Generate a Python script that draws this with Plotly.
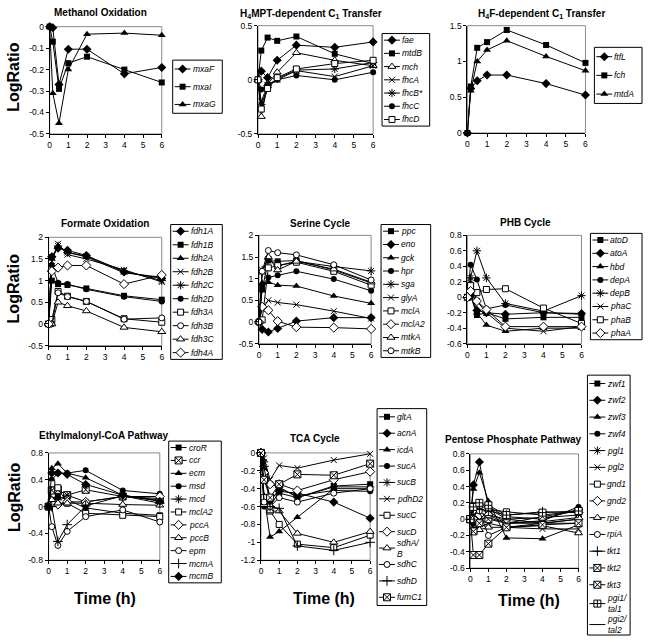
import plotly.graph_objects as go

W, H = 648, 642
FONT = "Arial, Liberation Sans, sans-serif"

# -------------------------------
# Data (hours after shift, log ratios)
# -------------------------------
time_h = [0, 0.17, 0.5, 1, 2, 4, 6]
x_ticks = [0, 1, 2, 3, 4, 5, 6]
x_ticktext = ["0", "1", "2", "3", "4", "5", "6"]

methanol_genes = ["mxaF", "mxaI", "mxaG"]
methanol_vals = [
    [0, -0.005, -0.27, -0.105, -0.105, -0.22, -0.19],
    [0, -0.07, -0.29, -0.17, -0.14, -0.2, -0.26],
    [0, -0.31, -0.45, -0.2, -0.035, -0.03, -0.04],
]
methanol_yticks = [-0.5, -0.4, -0.3, -0.2, -0.1, 0]
methanol_ytext = ["-0.5", "-0.4", "-0.3", "-0.2", "-0.1", "0"]

h4mpt_genes = ["fae", "mtdB", "mch", "fhcA", "fhcB*", "fhcC", "fhcD"]
h4mpt_vals = [
    [0, 0.08, 0.02, 0.18, 0.32, 0.3, 0.35],
    [0, 0.27, 0.39, 0.36, 0.4, 0.24, 0.15],
    [0, -0.34, -0.04, 0.07, 0.25, 0.18, 0.13],
    [0, -0.2, -0.05, 0.0, 0.085, 0.03, 0.13],
    [0, -0.23, -0.07, 0.01, 0.09, 0.1, 0.16],
    [0, -0.09, -0.04, 0.0, 0.04, 0.0, 0.07],
    [0, -0.27, -0.08, 0.02, 0.1, 0.15, 0.18],
]
h4mpt_yticks = [-0.5, 0, 0.5]
h4mpt_ytext = ["-0.5", "0", "0.5"]

h4f_genes = ["ftfL", "fch", "mtdA"]
h4f_vals = [
    [0, 0.62, 0.73, 0.81, 0.81, 0.69, 0.53],
    [0, 0.65, 1.19, 1.27, 1.44, 1.23, 0.98],
    [0, 0.59, 1.0, 1.16, 1.29, 1.07, 0.87],
]
h4f_yticks = [0, 0.5, 1, 1.5]
h4f_ytext = ["0", "0.5", "1", "1.5"]

formate_genes = ["fdh1A", "fdh1B", "fdh2A", "fdh2B", "fdh2C", "fdh2D",
                 "fdh3A", "fdh3B", "fdh3C", "fdh4A"]
formate_vals = [
    [0, 1.55, 1.75, 1.7, 1.58, 1.2, 1.05],
    [0, 1.0, 0.92, 0.9, 0.82, 0.65, 0.56],
    [0, 1.5, 1.8, 1.65, 1.55, 1.18, 1.08],
    [0, 1.45, 1.85, 1.6, 1.5, 1.25, 0.97],
    [0, 1.55, 1.8, 1.65, 1.57, 1.22, 1.0],
    [0, 1.35, 0.95, 0.92, 0.8, 0.63, 0.52],
    [0, 0.1, 0.75, 0.64, 0.52, 0.12, 0.04],
    [0, 0.0, 0.72, 0.63, 0.52, 0.11, 0.14],
    [0, 0.0, 0.5, 0.42, 0.3, -0.08, -0.18],
    [0, 1.22, 1.3, 1.35, 1.35, 0.92, 1.13],
]
formate_yticks = [-0.5, 0, 0.5, 1, 1.5, 2]
formate_ytext = ["-0.5", "0", "0.5", "1", "1.5", "2"]

serine_genes = ["ppc", "eno", "gck", "hpr", "sga", "glyA", "mclA",
                "mclA2", "mtkA", "mtkB"]
serine_vals = [
    [0, 0.75, 1.42, 1.4, 1.42, 1.2, 0.9],
    [0, -0.17, -0.23, -0.15, 0.02, 0.1, 0.1],
    [0, 0.9, 0.92, 0.85, 0.83, 0.6, 0.43],
    [0, 0.85, 1.03, 1.08, 1.17, 0.99, 0.72],
    [0, 1.2, 1.45, 1.3, 1.4, 1.28, 1.18],
    [0, 0.3, 0.5, 0.45, 0.4, 0.25, 0.08],
    [0, 0.05, 1.25, 1.3, 1.38, 1.17, 0.85],
    [0, 0.35, 0.27, 0.02, -0.12, -0.13, -0.16],
    [0, 1.15, 1.5, 1.2, 1.4, 1.22, 0.92],
    [0, 1.17, 1.65, 1.6, 1.55, 1.32, 0.97],
]
serine_yticks = [-0.5, 0, 0.5, 1, 1.5, 2]
serine_ytext = ["-0.5", "0", "0.5", "1", "1.5", "2"]

phb_genes = ["atoD", "atoA", "hbd", "depA", "depB", "phaC", "phaB", "phaA"]
phb_vals = [
    [0, 0.02, -0.23, -0.2, -0.28, -0.26, -0.26],
    [0, 0.05, -0.17, -0.2, -0.22, -0.2, -0.21],
    [0, 0.02, -0.2, -0.36, -0.44, -0.4, -0.4],
    [0, 0.42, 0.23, -0.15, -0.1, -0.2, -0.22],
    [0, 0.25, 0.6, 0.25, -0.08, -0.18, 0.02],
    [0, 0.22, -0.05, -0.2, -0.4, -0.44, -0.38],
    [0, 0.15, 0.06, 0.1, 0.11, -0.14, -0.34],
    [0, 0.08, -0.05, -0.16, -0.38, -0.38, -0.38],
]
phb_yticks = [-0.6, -0.4, -0.2, 0, 0.2, 0.4, 0.6, 0.8]
phb_ytext = ["-0.6", "-0.4", "-0.2", "0", "0.2", "0.4", "0.6", "0.8"]

emc_genes = ["croR", "ccr", "ecm", "msd", "mcd", "mclA2", "pccA", "pccB",
             "epm", "mcmA", "mcmB"]
emc_vals = [
    [0, 0.1, 0.15, 0.1, -0.02, -0.1, -0.13],
    [0, 0.24, 0.25, 0.17, 0.25, 0.15, 0.1],
    [0, 0.57, 0.64, 0.5, 0.43, 0.17, 0.08],
    [0, 0.4, 0.5, 0.5, 0.54, 0.24, 0.19],
    [0, 0.1, 0.1, 0.17, 0.07, 0.15, 0.12],
    [0, 0.34, 0.28, 0.05, -0.1, -0.13, -0.15],
    [0, 0.05, 0.03, 0.07, 0.07, 0.15, 0.15],
    [0, 0.1, 0.05, 0.05, 0.05, 0.03, 0.02],
    [0, -0.3, -0.58, -0.37, -0.15, -0.05, -0.23],
    [0, 0.0, -0.52, -0.27, 0.01, 0.16, 0.05],
    [0, 0.5, 0.5, 0.48, 0.33, 0.17, 0.08],
]
emc_yticks = [-0.8, -0.4, 0, 0.4, 0.8]
emc_ytext = ["-0.8", "-0.4", "0", "0.4", "0.8"]

tca_genes = ["gltA", "acnA", "icdA", "sucA", "sucB", "pdhD2", "sucC", "sucD",
             "sdhA/B", "sdhC", "sdhD", "fumC1"]
tca_vals = [
    [0, -0.2, -0.5, -0.45, -0.5, -0.37, -0.35],
    [0, -0.55, -0.6, -0.43, -0.45, -0.55, -0.73],
    [0, -0.48, -0.94, -0.88, -0.72, -0.4, -0.4],
    [0, -0.6, -0.55, -0.4, -0.48, -0.42, -0.43],
    [0, -0.1, -0.35, -0.38, -0.5, -0.38, -0.38],
    [0, -0.06, -0.3, -0.14, -0.17, -0.08, -0.01],
    [0, -0.5, -0.65, -0.8, -1.02, -1.06, -0.92],
    [0, -0.22, -0.35, -0.35, -0.42, -0.3, -0.21],
    [0, -0.58, -0.65, -0.65, -0.9, -1.0, -0.88],
    [0, -0.55, -0.6, -0.5, -0.55, -0.45, -0.4],
    [0, -0.15, -0.6, -0.62, -1.04, -1.09, -1.0],
    [0, -0.3, -0.5, -0.35, -0.24, -0.25, -0.12],
]
tca_yticks = [-1.2, -1, -0.8, -0.6, -0.4, -0.2, 0]
tca_ytext = ["-1.2", "-1", "-0.8", "-0.6", "-0.4", "-0.2", "0"]

ppp_genes = ["zwf1", "zwf2", "zwf3", "zwf4", "pgl1", "pgl2", "gnd1", "gnd2",
             "rpe", "rpiA", "tkt1", "tkt2", "tkt3", "pgi1/tal1", "pgi2/tal2"]
ppp_vals = [
    [0, 0.17, 0.2, 0.13, 0.0, 0.02, 0.05],
    [0, 0.42, 0.7, 0.15, 0.03, 0.0, 0.12],
    [0, 0.37, 0.57, 0.22, -0.23, -0.24, -0.07],
    [0, -0.05, -0.07, 0.1, -0.05, -0.02, 0.15],
    [0, 0.05, 0.07, 0.05, -0.05, -0.05, 0.0],
    [0, -0.1, -0.1, -0.05, -0.1, -0.12, -0.12],
    [0, 0.02, 0.17, 0.12, 0.09, 0.05, 0.1],
    [0, 0.0, 0.05, 0.05, 0.0, -0.05, 0.0],
    [0, -0.15, -0.13, -0.1, -0.1, -0.08, -0.17],
    [0, 0.15, 0.1, -0.2, -0.1, -0.05, -0.05],
    [0, 0.15, 0.12, 0.1, 0.05, 0.09, 0.08],
    [0, -0.15, -0.05, 0.0, -0.05, 0.03, 0.1],
    [0, -0.44, -0.44, -0.3, -0.1, -0.07, -0.05],
    [0, 0.15, 0.2, 0.17, 0.05, 0.08, 0.1],
    [0, 0.05, 0.0, 0.02, -0.05, -0.03, 0.02],
]
ppp_yticks = [-0.6, -0.4, -0.2, 0, 0.2, 0.4, 0.6, 0.8]
ppp_ytext = ["-0.6", "-0.4", "-0.2", "0", "0.2", "0.4", "0.6", "0.8"]

# -------------------------------
# Marker styles (Excel-like)
# -------------------------------
BL = dict(color="black", width=1)
STYLE = {
    "dia": dict(symbol="diamond", size=7, color="black", line=dict(color="black", width=0)),
    "sq": dict(symbol="square", size=6, color="black", line=dict(color="black", width=0)),
    "tri": dict(symbol="triangle-up", size=7, color="black", line=dict(color="black", width=0)),
    "cir": dict(symbol="circle", size=6, color="black", line=dict(color="black", width=0)),
    "x": dict(symbol="x-thin", size=6, color="black", line=BL),
    "ast": dict(symbol="asterisk", size=7, color="black", line=BL),
    "plus": dict(symbol="cross-thin", size=7, color="black", line=BL),
    "osq": dict(symbol="square", size=6, color="white", line=BL),
    "ocir": dict(symbol="circle", size=6, color="white", line=BL),
    "otri": dict(symbol="triangle-up", size=7, color="white", line=BL),
    "odia": dict(symbol="diamond", size=7, color="white", line=BL),
    "sqx": dict(symbol="square-x", size=7, color="white", line=BL),
    "sqp": dict(symbol="square-cross", size=7, color="white", line=BL),
    "none": None,
}

panels = [
    ("Methanol Oxidation", methanol_genes, methanol_vals,
     ["dia", "sq", "tri"], [-0.5, 0], methanol_yticks, methanol_ytext),
    ("H<sub>4</sub>MPT-dependent C<sub>1</sub> Transfer", h4mpt_genes, h4mpt_vals,
     ["dia", "sq", "otri", "x", "ast", "cir", "osq"], [-0.5, 0.5], h4mpt_yticks, h4mpt_ytext),
    ("H<sub>4</sub>F-dependent C<sub>1</sub> Transfer", h4f_genes, h4f_vals,
     ["dia", "sq", "tri"], [0, 1.5], h4f_yticks, h4f_ytext),
    ("Formate Oxidation", formate_genes, formate_vals,
     ["dia", "sq", "tri", "x", "ast", "cir", "osq", "ocir", "otri", "odia"],
     [-0.5, 2], formate_yticks, formate_ytext),
    ("Serine Cycle", serine_genes, serine_vals,
     ["sq", "dia", "tri", "cir", "ast", "x", "osq", "odia", "otri", "ocir"],
     [-0.5, 2], serine_yticks, serine_ytext),
    ("PHB Cycle", phb_genes, phb_vals,
     ["sq", "dia", "tri", "cir", "ast", "x", "osq", "odia"],
     [-0.6, 0.8], phb_yticks, phb_ytext),
    ("Ethylmalonyl-CoA Pathway", emc_genes, emc_vals,
     ["sq", "sqx", "tri", "cir", "ast", "osq", "odia", "otri", "ocir", "plus", "dia"],
     [-0.8, 0.8], emc_yticks, emc_ytext),
    ("TCA Cycle", tca_genes, tca_vals,
     ["sq", "dia", "tri", "cir", "ast", "x", "osq", "odia", "otri", "ocir", "plus", "sqx"],
     [-1.2, 0], tca_yticks, tca_ytext),
    ("Pentose Phosphate Pathway", ppp_genes, ppp_vals,
     ["sq", "dia", "tri", "cir", "ast", "x", "osq", "odia", "otri", "ocir", "plus",
      "sqx", "sqx", "sqp", "none"],
     [-0.6, 0.8], ppp_yticks, ppp_ytext),
]

# pixel boxes: plot areas, legend boxes, titles
plot_px = [(48, 161, 22, 131), (258, 374, 21, 131), (469, 588, 21, 130),
           (47, 161, 236, 346), (259, 372, 234, 344), (469, 584, 234, 344),
           (47, 159, 455, 564), (261, 371, 455, 564), (472, 581, 456, 572)]
legend_px = [(172, 222, 56, 110), (383, 431, 29, 123), (597, 645, 43, 100),
             (170, 222, 223, 360), (382, 432, 223, 358), (593, 645, 232, 340),
             (168, 221, 443, 587), (378, 428, 410, 610), (590, 633, 376, 640)]
title_px = [(99, 8), (311, 9), (544, 9), (104, 222), (320, 222), (528, 221),
            (103, 437), (315, 440), (515, 441)]


def px(x):
    return x / W


def py(y):
    return 1 - y / H


fig = go.Figure()
layout = dict(width=W, height=H, margin=dict(l=0, r=0, t=0, b=0),
              paper_bgcolor="white", plot_bgcolor="rgba(0,0,0,0)",
              showlegend=False, font=dict(family=FONT, color="black"))
shapes, annotations = [], []

for k, (title, genes, vals, styles, yr, ytv, ytt) in enumerate(panels, start=1):
    sfx = "" if k == 1 else str(k)
    x0, x1, y0, y1 = plot_px[k - 1]
    layout["xaxis" + sfx] = dict(
        domain=[px(x0), px(x1)], range=[0, 6], anchor="y" + sfx,
        showline=True, linecolor="black", linewidth=1, ticks="outside",
        ticklen=3, tickcolor="black", tickvals=x_ticks, ticktext=x_ticktext,
        tickfont=dict(size=8.5), showgrid=False, zeroline=False)
    layout["yaxis" + sfx] = dict(
        domain=[py(y1), py(y0)], range=yr, anchor="x" + sfx,
        showline=True, linecolor="black", linewidth=1, ticks="outside",
        ticklen=3, tickcolor="black", tickvals=ytv, ticktext=ytt,
        tickfont=dict(size=8.5), showgrid=False, zeroline=False)
    # gray plot-area border
    shapes.append(dict(type="rect", xref="x" + sfx + " domain", yref="y" + sfx + " domain",
                       x0=0, x1=1, y0=0, y1=1, line=dict(color="#8a8a8a", width=1),
                       layer="below"))

    for g, v, s in zip(genes, vals, styles):
        m = STYLE[s]
        fig.add_trace(go.Scatter(
            x=time_h, y=v, name=g, xaxis="x" + sfx, yaxis="y" + sfx,
            mode="lines" if m is None else "lines+markers",
            line=dict(color="black", width=1), marker=m, cliponaxis=False))

    # title
    tx, ty = title_px[k - 1]
    annotations.append(dict(text="<b>" + title + "</b>", x=px(tx), y=py(ty),
                            xref="paper", yref="paper", showarrow=False,
                            xanchor="center", yanchor="middle",
                            font=dict(size=10)))

    # legend box drawn on its own hidden axes (1 unit = 1 px)
    lk = str(k + 9)
    lx0, lx1, ly0, ly1 = legend_px[k - 1]
    lw, lh = lx1 - lx0, ly1 - ly0
    layout["xaxis" + lk] = dict(domain=[px(lx0), px(lx1)], range=[0, lw],
                                anchor="y" + lk, visible=False)
    layout["yaxis" + lk] = dict(domain=[py(ly1), py(ly0)], range=[lh, 0],
                                anchor="x" + lk, visible=False)
    shapes.append(dict(type="rect", xref="paper", yref="paper",
                       x0=px(lx0), x1=px(lx1), y0=py(ly1), y1=py(ly0),
                       line=dict(color="black", width=1), fillcolor="white",
                       layer="below"))
    # two-line labels get a bit more room
    weights = [1.25 if ("/" in g and k == 9) else 1.0 for g in genes]
    unit = lh / sum(weights)
    acc = 0.0
    for g, s, wt in zip(genes, styles, weights):
        yc = (acc + wt / 2) * unit
        acc += wt
        m = STYLE[s]
        if m is not None:
            m = dict(m, opacity=[0, 1, 0])
        fig.add_trace(go.Scatter(
            x=[2, 10, 18], y=[yc] * 3, xaxis="x" + lk, yaxis="y" + lk,
            mode="lines" if m is None else "lines+markers",
            line=dict(color="black", width=1), marker=m, cliponaxis=False,
            hoverinfo="skip"))
        label = "<br>".join("<i>" + p + "</i>" for p in g.replace("/", "/\n").split("\n"))
        annotations.append(dict(text=label, x=px(lx0 + 19), y=py(ly0 + yc),
                                xref="paper", yref="paper",
                                showarrow=False, xanchor="left", yanchor="middle",
                                align="left", borderpad=0, font=dict(size=8.5)))

# axis titles
for yc in [73, 288, 500]:
    annotations.append(dict(text="<b>LogRatio</b>", x=px(12), y=py(yc), xref="paper",
                            yref="paper", showarrow=False, textangle=-90,
                            xanchor="center", yanchor="middle", font=dict(size=16)))
for xc, yc in [(104, 603), (325, 603), (531, 605)]:
    annotations.append(dict(text="<b>Time (h)</b>", x=px(xc), y=py(yc), xref="paper",
                            yref="paper", showarrow=False, xanchor="center",
                            yanchor="middle", font=dict(size=16)))

layout["shapes"] = shapes
layout["annotations"] = annotations
fig.update_layout(**layout)

# the page body has a default 8px margin; drop it so the figure fills the window
fig.write_html("out.html", config={"displayModeBar": False},
               post_script="document.body.style.margin='0';")
